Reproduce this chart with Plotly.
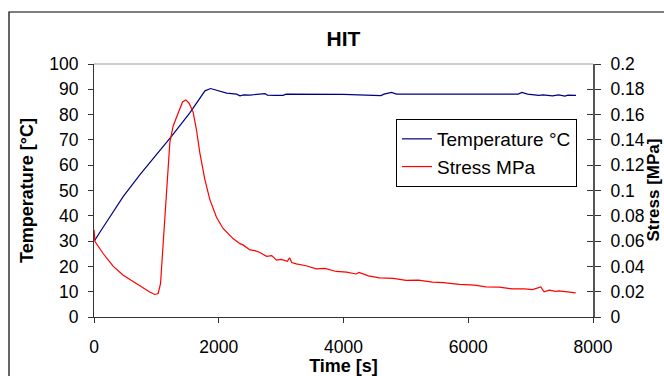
import plotly.graph_objects as go

# ---- data ----
temp_t = [0, 16, 120, 256, 470, 737, 1004, 1245, 1539, 1779, 1869, 1993, 2127, 2287,
          2340, 2400, 2500, 2740, 2780, 2900, 3030, 3080, 3500, 4000, 4600, 4650, 4770,
          4850, 5300, 6000, 6800, 6860, 6950, 7130, 7200, 7350, 7450, 7550, 7600, 7728]
temp_v = [30.5, 30.5, 34.5, 39.7, 47.7, 56.3, 64.2, 71.5, 80.8, 89.4, 90.3, 89.4, 88.5, 88.1,
          87.4, 87.8, 87.7, 88.3, 87.7, 87.6, 87.6, 88.1, 88.1, 88.0, 87.5, 88.1, 88.8,
          88.1, 88.1, 88.1, 88.1, 88.8, 88.1, 87.6, 87.8, 87.4, 87.8, 87.3, 87.7, 87.6]

stress_t = [0, 16, 149, 309, 469, 629, 789, 900, 976, 1029, 1067, 1099, 1136, 1173, 1216,
            1269, 1349, 1419, 1472, 1525, 1589, 1643, 1696, 1776, 1856, 1962, 2069, 2229,
            2340, 2389, 2500, 2580, 2660, 2767, 2850, 2927, 3000, 3100, 3136, 3170, 3243,
            3400, 3563, 3700, 3883, 4050, 4203, 4250, 4400, 4576, 4800, 5003, 5200, 5429,
            5600, 5856, 6100, 6283, 6500, 6709, 6900, 7029, 7163, 7216, 7300, 7400, 7456,
            7600, 7723]
stress_v = [0.069, 0.0596, 0.050, 0.040, 0.033, 0.028, 0.0225, 0.0195, 0.0178, 0.0186,
            0.0266, 0.0504, 0.085, 0.111, 0.138, 0.151, 0.162, 0.170, 0.1716, 0.169, 0.162,
            0.148, 0.130, 0.109, 0.093, 0.079, 0.070, 0.062, 0.058, 0.057, 0.053, 0.0525,
            0.051, 0.048, 0.0485, 0.045, 0.0455, 0.044, 0.0468, 0.043, 0.042, 0.0405, 0.038,
            0.0385, 0.036, 0.0355, 0.034, 0.0352, 0.0325, 0.031, 0.0305, 0.029, 0.0292,
            0.0276, 0.0272, 0.0258, 0.0252, 0.0238, 0.0236, 0.0222, 0.0222, 0.0216, 0.0238,
            0.0199, 0.0212, 0.0202, 0.0206, 0.0196, 0.019]

x_ticks = [0, 2000, 4000, 6000, 8000]
x_tick_text = ["0", "2000", "4000", "6000", "8000"]
y_ticks = [0, 10, 20, 30, 40, 50, 60, 70, 80, 90, 100]
y2_ticks = [0, 0.02, 0.04, 0.06, 0.08, 0.1, 0.12, 0.14, 0.16, 0.18, 0.2]
y2_tick_text = ["0", "0.02", "0.04", "0.06", "0.08", "0.1", "0.12", "0.14", "0.16", "0.18", "0.2"]

FONT = "Liberation Sans, Arial, sans-serif"
TICK = 17.5
AXT = 18

fig = go.Figure()
fig.add_trace(go.Scatter(x=temp_t, y=temp_v, mode="lines", name="Temperature °C",
                         line=dict(color="#000080", width=1.2), yaxis="y"))
fig.add_trace(go.Scatter(x=stress_t, y=stress_v, mode="lines", name="Stress MPa",
                         line=dict(color="#FF0000", width=1.2), yaxis="y2"))

W, H = 664, 376
L, R, T, B = 94, 71, 64, 59
pw, ph = W - L - R, H - T - B

def px_x(p):
    return (p - L) / pw

def px_y(p):
    return (H - B - p) / ph

right_common = dict(range=[0, 0.2], tickvals=y2_ticks, overlaying="y", side="right",
                    anchor="x", automargin=False, showgrid=False, zeroline=False)

fig.update_layout(
    width=W, height=H,
    margin=dict(l=L, r=R, t=T, b=B, pad=0, autoexpand=False),
    paper_bgcolor="white", plot_bgcolor="white",
    font=dict(family=FONT, color="black", size=TICK),
    title=dict(text="HIT", x=(L + pw / 2) / W, xanchor="center", y=1 - 39 / H, yanchor="middle",
               font=dict(family=FONT, size=21, weight="bold", color="black")),
    showlegend=True,
    legend=dict(x=px_x(396), y=px_y(119), xanchor="left", yanchor="top",
                bgcolor="white", bordercolor="black", borderwidth=1,
                font=dict(family=FONT, size=19, color="black"),
                itemwidth=30, tracegroupgap=0),
    xaxis=dict(range=[0, 8000], tickvals=x_ticks, ticktext=x_tick_text, automargin=False,
               showgrid=False, zeroline=False, showline=True, linecolor="#333333", linewidth=1,
               ticks="outside", ticklen=5, tickcolor="#333333", ticklabelstandoff=9,
               tickfont=dict(size=TICK),
               title=dict(text="Time [s]", font=dict(family=FONT, size=AXT, weight="bold"), standoff=8)),
    yaxis=dict(range=[0, 100], tickvals=y_ticks, automargin=False,
               showgrid=False, zeroline=False, showline=True, linecolor="#333333", linewidth=1,
               ticks="outside", ticklen=5, tickcolor="#333333", ticklabelstandoff=6,
               tickfont=dict(size=TICK),
               title=dict(text="Temperature [°C]", font=dict(family=FONT, size=AXT, weight="bold"), standoff=10)),
    # right axis: line + outer half of the cross ticks
    yaxis2=dict(**right_common, showline=True, linecolor="#555555", linewidth=2,
                ticks="outside", ticklen=6, tickcolor="#333333", showticklabels=False),
    # right axis tick labels (transparent spacer ticks push them out)
    yaxis3=dict(**right_common, ticktext=y2_tick_text, showline=False,
                ticks="outside", ticklen=13, tickcolor="rgba(0,0,0,0)",
                tickfont=dict(size=TICK)),
    # inner half of the cross ticks
    yaxis4=dict(**right_common, showline=False, showticklabels=False,
                ticks="inside", ticklen=6, tickcolor="#333333"),
    annotations=[dict(text="<b>Stress [MPa]</b>", xref="paper", yref="paper",
                      x=px_x(653), y=0.5, xanchor="center", yanchor="middle",
                      textangle=-90, showarrow=False,
                      font=dict(family=FONT, size=17, color="black"))],
)

# invisible helper traces so the extra right axes are drawn
fig.add_trace(go.Scatter(x=[None], y=[None], yaxis="y3", showlegend=False, hoverinfo="skip"))
fig.add_trace(go.Scatter(x=[None], y=[None], yaxis="y4", showlegend=False, hoverinfo="skip"))

# chart-area border and plot-area top edge
fig.add_shape(type="rect", xref="paper", yref="paper",
              x0=px_x(9), x1=px_x(672), y0=px_y(384), y1=px_y(12),
              line=dict(color="black", width=1.2), fillcolor="rgba(0,0,0,0)", layer="below")
fig.add_shape(type="line", xref="paper", yref="paper", x0=0, x1=1, y0=1, y1=1,
              line=dict(color="#999999", width=1))

fig.write_html("out.html")
